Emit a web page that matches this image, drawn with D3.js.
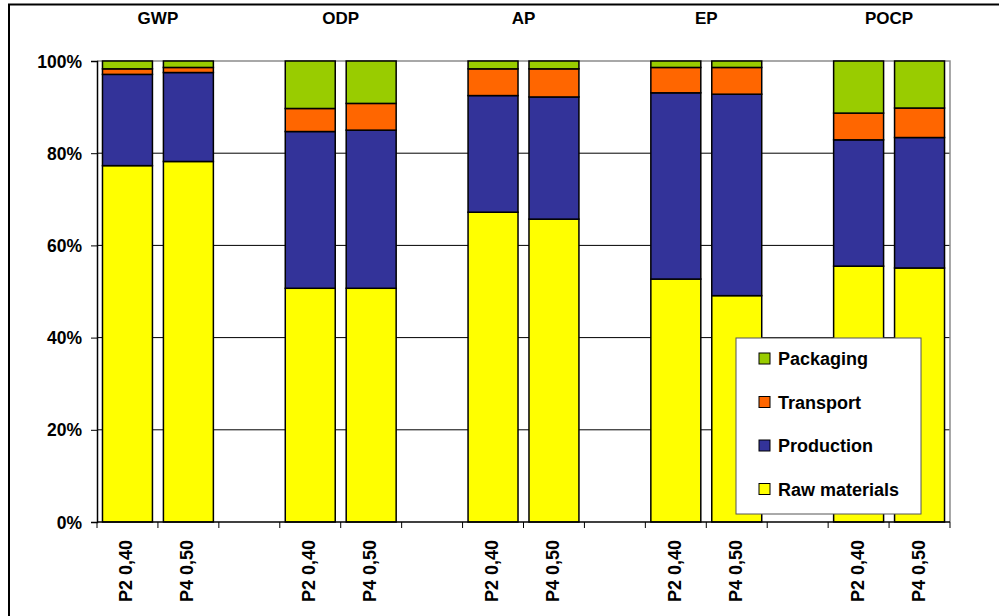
<!DOCTYPE html>
<meta charset="utf-8">
<style>
  body { margin: 0; background: #fff; }
  text { font-family: Arial, "Liberation Sans", sans-serif; font-weight: bold; fill: #000; }
</style>
<script src="https://cdn.jsdelivr.net/npm/d3@7"></script>
<svg width="999" height="616"></svg>
<script>
const groups = ['GWP', 'ODP', 'AP', 'EP', 'POCP'];
const variants = ['P2 0,40', 'P4 0,50'];
const series = ['Raw materials', 'Production', 'Transport', 'Packaging'];
const yTicks = [0, 20, 40, 60, 80, 100];

// share of each stage (%), order: GWP P2, GWP P4, ODP P2, ODP P4, ... POCP P4
const rawMaterials = [77.3, 78.2, 50.7, 50.7, 67.2, 65.7, 52.7, 49.1, 55.5, 55.1];
const production   = [19.8, 19.3, 34.0, 34.3, 25.3, 26.5, 40.4, 43.7, 27.4, 28.3];
const transport    = [1.2, 1.1, 5.0, 5.8, 5.8, 6.1, 5.5, 5.8, 5.8, 6.4];
const packaging    = [1.7, 1.4, 10.3, 9.2, 1.7, 1.7, 1.4, 1.4, 11.3, 10.2];

const colors = {
  'Raw materials': '#ffff00',
  'Production': '#333399',
  'Transport': '#ff6600',
  'Packaging': '#99cc00'
};

const svg = d3.select('svg');
const plotL = 97, plotR = 950, plotT = 61, plotB = 522;

// outer chart frame
svg.append('rect')
  .attr('x', 9).attr('y', 4.5).attr('width', 1100).attr('height', 700)
  .attr('fill', 'none').attr('stroke', '#000').attr('stroke-width', 2);

// build rows and slot keys (blank slot between groups)
const rows = [];
const slots = [];
groups.forEach((g, gi) => {
  variants.forEach((v, vi) => {
    const i = gi * 2 + vi;
    const key = g + '|' + v;
    slots.push(key);
    rows.push({
      key, group: g, variant: v,
      'Raw materials': rawMaterials[i],
      'Production': production[i],
      'Transport': transport[i],
      'Packaging': packaging[i]
    });
  });
  if (gi < groups.length - 1) slots.push('gap' + gi);
});

const x = d3.scaleBand().domain(slots).range([plotL, plotR]).padding(0);
const y = d3.scaleLinear().domain([0, 100]).range([plotB, plotT]);
const barW = x.bandwidth() * 0.82;

// gridlines
svg.append('g').selectAll('line')
  .data(yTicks.filter(t => t > 0 && t < 100))
  .join('line')
  .attr('x1', plotL).attr('x2', plotR)
  .attr('y1', d => y(d)).attr('y2', d => y(d))
  .attr('stroke', '#000').attr('stroke-width', 1);

// plot area border (top/right gray)
svg.append('path')
  .attr('d', `M${plotL},${plotT}H${plotR}V${plotB}`)
  .attr('fill', 'none').attr('stroke', '#8c8c8c').attr('stroke-width', 1.5);

// stacked bars
const stacked = d3.stack().keys(series)(rows);
svg.append('g').selectAll('g')
  .data(stacked)
  .join('g')
  .attr('fill', d => colors[d.key])
  .selectAll('rect')
  .data(d => d)
  .join('rect')
  .attr('x', d => x(d.data.key) + (x.bandwidth() - barW) / 2)
  .attr('width', barW)
  .attr('y', d => y(d[1]))
  .attr('height', d => y(d[0]) - y(d[1]))
  .attr('stroke', '#000').attr('stroke-width', 1.5);

// y axis
const yAxis = svg.append('g').attr('transform', `translate(${plotL},0)`)
  .call(d3.axisLeft(y).tickValues(yTicks).tickSize(6).tickFormat(d => d + '%'));
yAxis.select('.domain').attr('stroke', '#000').attr('stroke-width', 1.5);
yAxis.selectAll('.tick line').attr('stroke', '#000');
yAxis.selectAll('text')
  .attr('x', -15).attr('dy', '0.35em')
  .style('font-size', '17.5px').style('font-family', 'Arial, "Liberation Sans", sans-serif')
  .style('font-weight', 'bold');

// x axis: line and ticks at slot boundaries
const bounds = slots.map(s => x(s)).concat([plotR]);
svg.append('line')
  .attr('x1', plotL).attr('x2', plotR).attr('y1', plotB).attr('y2', plotB)
  .attr('stroke', '#000').attr('stroke-width', 1.5);
svg.append('g').selectAll('line')
  .data(bounds)
  .join('line')
  .attr('x1', d => d).attr('x2', d => d)
  .attr('y1', plotB).attr('y2', plotB + 6)
  .attr('stroke', '#000');

// category labels (rotated)
svg.append('g').selectAll('text')
  .data(rows)
  .join('text')
  .attr('transform', d => `translate(${x(d.key) + x.bandwidth() / 2 + 5},540) rotate(-90)`)
  .attr('text-anchor', 'end')
  .style('font-size', '18px')
  .text(d => d.variant);

// group titles
svg.append('g').selectAll('text')
  .data(groups)
  .join('text')
  .attr('x', g => (x(g + '|' + variants[0]) + x(g + '|' + variants[1]) + x.bandwidth()) / 2)
  .attr('y', 24)
  .attr('text-anchor', 'middle')
  .style('font-size', '17px')
  .text(g => g);

// legend
const lg = svg.append('g').attr('transform', 'translate(736,338)');
lg.append('rect')
  .attr('width', 185).attr('height', 176)
  .attr('fill', '#fff').attr('stroke', '#555').attr('stroke-width', 1);
const legendOrder = series.slice().reverse();
const li = lg.selectAll('g.item')
  .data(legendOrder)
  .join('g').attr('class', 'item')
  .attr('transform', (d, i) => `translate(23,${21 + i * 43.5})`);
li.append('rect')
  .attr('x', 0).attr('y', -6).attr('width', 11).attr('height', 11)
  .attr('fill', d => colors[d]).attr('stroke', '#000').attr('stroke-width', 1);
li.append('text')
  .attr('x', 19).attr('y', 0).attr('dy', '0.35em')
  .style('font-size', '18px')
  .text(d => d);
</script>
